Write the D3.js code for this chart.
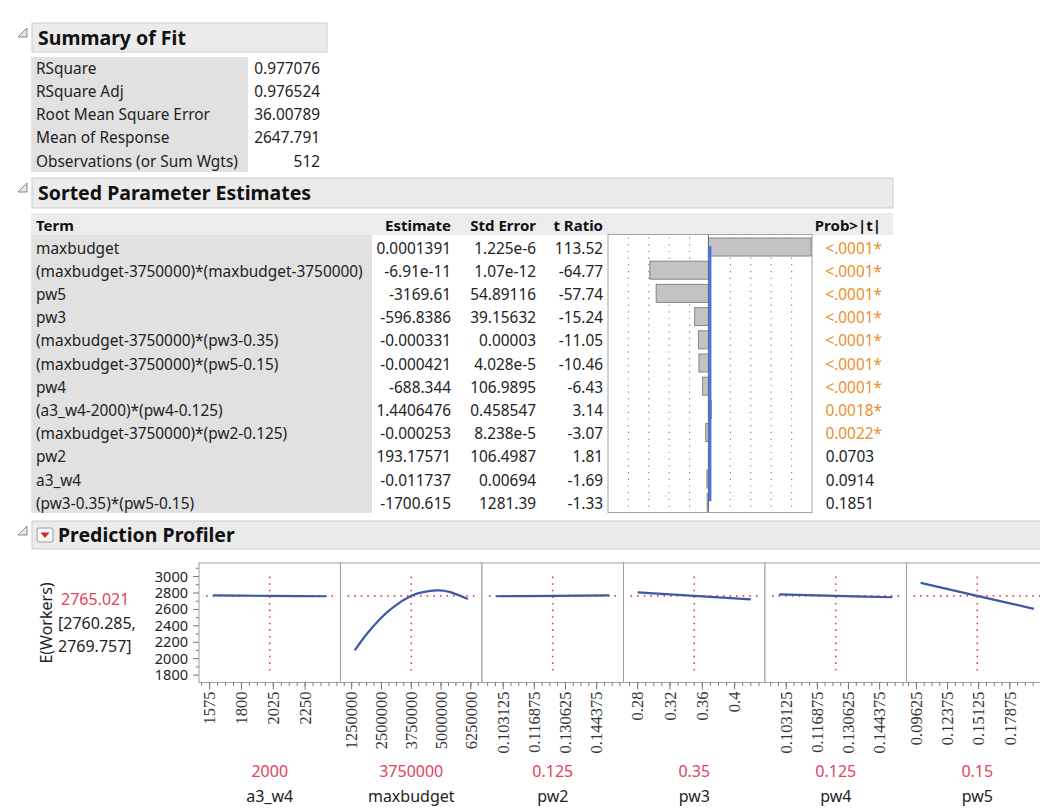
<!DOCTYPE html>
<html>
<head>
<meta charset="utf-8">
<script src="https://cdn.jsdelivr.net/npm/d3@7/dist/d3.min.js"></script>
<style>
  body { margin: 0; background: #fff; }
  svg { display: block; font-family: "Noto Sans", "Open Sans", sans-serif; }
</style>
</head>
<body>
<svg id="chart" width="1040" height="808"></svg>
<script>
// ---------- data ----------
var fitLabels = ["RSquare", "RSquare Adj", "Root Mean Square Error", "Mean of Response", "Observations (or Sum Wgts)"];
var fitValues = ["0.977076", "0.976524", "36.00789", "2647.791", "512"];

var terms = ["maxbudget", "(maxbudget-3750000)*(maxbudget-3750000)", "pw5", "pw3",
  "(maxbudget-3750000)*(pw3-0.35)", "(maxbudget-3750000)*(pw5-0.15)", "pw4",
  "(a3_w4-2000)*(pw4-0.125)", "(maxbudget-3750000)*(pw2-0.125)", "pw2", "a3_w4",
  "(pw3-0.35)*(pw5-0.15)"];
var estimates = ["0.0001391", "-6.91e-11", "-3169.61", "-596.8386", "-0.000331", "-0.000421",
  "-688.344", "1.4406476", "-0.000253", "193.17571", "-0.011737", "-1700.615"];
var stdErrors = ["1.225e-6", "1.07e-12", "54.89116", "39.15632", "0.00003", "4.028e-5",
  "106.9895", "0.458547", "8.238e-5", "106.4987", "0.00694", "1281.39"];
var tRatios = [113.52, -64.77, -57.74, -15.24, -11.05, -10.46, -6.43, 3.14, -3.07, 1.81, -1.69, -1.33];
var probs = ["<.0001*", "<.0001*", "<.0001*", "<.0001*", "<.0001*", "<.0001*", "<.0001*",
  "0.0018*", "0.0022*", "0.0703", "0.0914", "0.1851"];

var factors = ["a3_w4", "maxbudget", "pw2", "pw3", "pw4", "pw5"];
var factorCurrent = [2000, 3750000, 0.125, 0.35, 0.125, 0.15];
var factorDomains = [[1500, 2500], [781250, 6718750], [0.09375, 0.15625],
  [0.2625, 0.4375], [0.09375, 0.15625], [0.0875, 0.2125]];
var factorTicks = [[1575, 1800, 2025, 2250],
  [1250000, 2500000, 3750000, 5000000, 6250000],
  [0.103125, 0.116875, 0.130625, 0.144375],
  [0.28, 0.32, 0.36, 0.4],
  [0.103125, 0.116875, 0.130625, 0.144375],
  [0.09625, 0.12375, 0.15125, 0.17875]];
// profile traces
var traceX = [[1600, 2000, 2400],
  [1375000, 1900000, 2450000, 3000000, 3750000, 4250000, 4800000, 5350000, 6125000],
  [0.1, 0.125, 0.15],
  [0.28, 0.35, 0.42],
  [0.1, 0.125, 0.15],
  [0.1, 0.15, 0.2]];
var traceY = [[2770, 2765, 2760],
  [2100, 2306, 2487, 2629, 2765, 2811, 2831, 2814, 2728],
  [2760, 2765, 2770],
  [2807, 2765, 2723],
  [2782, 2765, 2748],
  [2923, 2765, 2607]];
var yTicks = [1800, 2000, 2200, 2400, 2600, 2800, 3000];
var predValue = "2765.021";
var predCI = ["[2760.285,", "2769.757]"];

// ---------- helpers ----------
var svg = d3.select("#chart");
var RED = "#e4405c", ORANGE = "#e8902c", TXT = "#222";
var FS = 15.4;

function outlineHeader(x, y, w, h, title, tri) {
  svg.append("rect").attr("x", x).attr("y", y).attr("width", w).attr("height", h)
    .attr("fill", "#ebebeb").attr("stroke", "#cdcdcd");
  svg.append("path")
    .attr("d", "M" + (tri + 9) + "," + (y + 5) + "L" + (tri + 9) + "," + (y + 14) + "L" + tri + "," + (y + 14) + "Z")
    .attr("fill", "#e6e6e6").attr("stroke", "#8a8a8a").attr("stroke-width", 1);
  return svg.append("text").attr("x", x + 6).attr("y", y + h / 2 + 7)
    .attr("font-size", 19.5).attr("font-weight", "bold").attr("fill", "#111").text(title);
}

// ---------- Summary of Fit ----------
outlineHeader(32, 23, 295, 29, "Summary of Fit", 18);
svg.append("rect").attr("x", 31).attr("y", 57).attr("width", 217).attr("height", 115).attr("fill", "#e1e1e1");
var rowY = d3.scaleLinear().domain([0, 1]).range([68, 91.3]);
svg.selectAll(".fitL").data(fitLabels).enter().append("text")
  .attr("x", 36).attr("y", function(d, i) { return rowY(i) + 5.5; })
  .attr("font-size", FS).attr("fill", TXT).text(function(d) { return d; });
svg.selectAll(".fitV").data(fitValues).enter().append("text")
  .attr("x", 320).attr("y", function(d, i) { return rowY(i) + 5.5; }).attr("text-anchor", "end")
  .attr("font-size", FS).attr("fill", TXT).text(function(d) { return d; });

// ---------- Sorted Parameter Estimates ----------
outlineHeader(32, 178, 861, 30, "Sorted Parameter Estimates", 18);
svg.append("rect").attr("x", 31).attr("y", 213).attr("width", 862).attr("height", 22).attr("fill", "#ececec");
svg.append("rect").attr("x", 31).attr("y", 235).attr("width", 341).attr("height", 278).attr("fill", "#e1e1e1");

var headers = [["Term", 36, "start"], ["Estimate", 451, "end"], ["Std Error", 536, "end"],
  ["t Ratio", 603, "end"], ["Prob>|t|", 881, "end"]];
svg.selectAll(".hdr").data(headers).enter().append("text")
  .attr("x", function(d) { return d[1]; }).attr("y", 230.5).attr("text-anchor", function(d) { return d[2]; })
  .attr("font-size", 15).attr("font-weight", "bold").attr("fill", "#111").text(function(d) { return d[0]; });

var row = d3.scaleLinear().domain([0, 1]).range([248, 271.2]);
function col(arr, x, anchor, color) {
  svg.append("g").selectAll("text").data(arr).enter().append("text")
    .attr("x", x).attr("y", function(d, i) { return row(i) + 5.5; })
    .attr("text-anchor", anchor).attr("font-size", FS)
    .attr("fill", color || TXT).text(function(d) { return d; });
}
col(terms, 36, "start");
col(estimates, 451, "end");
col(stdErrors, 536, "end");
col(tRatios.map(function(t) { return t.toFixed(2); }), 603, "end");
svg.append("g").selectAll("text").data(probs).enter().append("text")
  .attr("x", function(d) { return d.slice(-1) === "*" ? 882 : 874; })
  .attr("y", function(d, i) { return row(i) + 5.5; })
  .attr("text-anchor", "end").attr("font-size", FS)
  .attr("fill", function(d) { return d.slice(-1) === "*" ? ORANGE : TXT; })
  .text(function(d) { return d; });

// t ratio bar chart
var tx = d3.scaleLinear().domain([-111, 114.5]).range([608, 812]);
var gridX = d3.scaleLinear().domain([0, 10]).range([608, 812]);
var chartTop = 234.5, chartBot = 512.5;
svg.append("rect").attr("x", 608).attr("y", chartTop).attr("width", 204).attr("height", chartBot - chartTop)
  .attr("fill", "#fff").attr("stroke", "#a3a3a3");
svg.append("g").selectAll("line").data([1, 2, 3, 4, 6, 7, 8, 9]).enter().append("line")
  .attr("x1", gridX).attr("x2", gridX).attr("y1", chartTop + 3).attr("y2", chartBot - 1)
  .attr("stroke", "#8a8a8a").attr("stroke-width", 1.2).attr("stroke-dasharray", "1.2,5.5");
svg.append("g").selectAll("rect").data(tRatios).enter().append("rect")
  .attr("x", function(d) { return Math.min(tx(0), tx(d)); })
  .attr("width", function(d) { return Math.abs(tx(d) - tx(0)); })
  .attr("y", function(d, i) { return row(i) - 10; }).attr("height", 18)
  .attr("fill", "#c3c3c3").attr("stroke", "#868686");
svg.append("line").attr("x1", tx(0)).attr("x2", tx(0)).attr("y1", chartTop).attr("y2", chartBot)
  .attr("stroke", "#6a6a6a");
svg.append("rect").attr("x", tx(0)).attr("width", 3)
  .attr("y", row(0) - 2).attr("height", row(tRatios.length - 1) - row(0))
  .attr("fill", "#4c73d6");

// ---------- Prediction Profiler ----------
outlineHeader(32, 521, 1010, 28, "Prediction Profiler", 18).attr("x", 58);
svg.append("rect").attr("x", 37).attr("y", 528).attr("width", 16).attr("height", 14).attr("rx", 2)
  .attr("fill", "#f6f6f6").attr("stroke", "#9a9a9a");
svg.append("path").attr("d", "M40.5,532.5L49.5,532.5L45,538Z").attr("fill", "#d8202c");

var panelW = 141.5, panelX0 = 199, pTop = 563, pBot = 682.5;
var y = d3.scaleLinear().domain([1710, 3165]).range([pBot, pTop]);

// y axis
svg.append("g").selectAll("line").data(d3.range(1800, 3101, 100)).enter().append("line")
  .attr("x1", function(d) { return d % 200 === 0 ? panelX0 - 6 : panelX0 - 3; }).attr("x2", panelX0)
  .attr("y1", y).attr("y2", y).attr("stroke", "#777");
svg.append("g").selectAll("text").data(yTicks).enter().append("text")
  .attr("x", 188).attr("y", function(d) { return y(d) + 5; }).attr("text-anchor", "end")
  .attr("font-size", 14.5).attr("fill", TXT).text(function(d) { return d; });
svg.append("text").attr("transform", "translate(52,623) rotate(-90)").attr("text-anchor", "middle")
  .attr("font-size", 16).attr("fill", TXT).text("E(Workers)");
svg.append("text").attr("x", 61).attr("y", 605).attr("font-size", 16).attr("fill", RED).text(predValue);
svg.selectAll(".ci").data(predCI).enter().append("text")
  .attr("x", 58).attr("y", function(d, i) { return 628.5 + i * 23; })
  .attr("font-size", 16).attr("fill", TXT).text(function(d) { return d; });

var line = d3.line().curve(d3.curveNatural);
factors.forEach(function(name, k) {
  var x0 = panelX0 + k * panelW, x1 = x0 + panelW;
  var x = d3.scaleLinear().domain(factorDomains[k]).range([x0, x1]);
  var g = svg.append("g");
  g.append("rect").attr("x", x0).attr("y", pTop).attr("width", panelW).attr("height", pBot - pTop)
    .attr("fill", "#fff").attr("stroke", "#9d9d9d");
  // x ticks
  var tk = factorTicks[k], step = (tk[1] - tk[0]) / 4;
  var minor = d3.range(tk[0] - 8 * step, tk[tk.length - 1] + 8 * step, step)
    .filter(function(v) { return x(v) > x0 + 1 && x(v) < x1 - 1; });
  g.selectAll(".mt").data(minor).enter().append("line")
    .attr("x1", x).attr("x2", x).attr("y1", pBot).attr("y2", pBot + 3.5).attr("stroke", "#777");
  g.selectAll(".Mt").data(tk).enter().append("line")
    .attr("x1", x).attr("x2", x).attr("y1", pBot).attr("y2", pBot + 7).attr("stroke", "#777");
  g.selectAll(".tl").data(tk).enter().append("text")
    .attr("transform", function(v) { return "translate(" + x(v) + "," + (pBot + 9) + ") rotate(-90)"; })
    .attr("dy", "0.35em").attr("text-anchor", "end")
    .attr("font-family", "Liberation Serif, serif").attr("font-size", 16.5).attr("fill", "#333")
    .text(function(v) { return String(v); });
  // crosshair
  var cx = x(factorCurrent[k]);
  g.append("line").attr("x1", cx).attr("x2", cx).attr("y1", y(3000)).attr("y2", y(1800))
    .attr("stroke", RED).attr("stroke-width", 1.6).attr("stroke-dasharray", "1.6,5");
  g.append("line").attr("x1", x0 + 7).attr("x2", x1 - 7).attr("y1", y(2765)).attr("y2", y(2765))
    .attr("stroke", RED).attr("stroke-width", 1.6).attr("stroke-dasharray", "1.6,5");
  // trace
  var pts = traceX[k].map(function(v, i) { return [x(v), y(traceY[k][i])]; });
  g.append("path").attr("d", line(pts)).attr("fill", "none")
    .attr("stroke", "#3c58a8").attr("stroke-width", 2.2);
  // labels
  g.append("text").attr("x", (x0 + x1) / 2).attr("y", 777).attr("text-anchor", "middle")
    .attr("font-size", 16).attr("fill", RED).text(String(factorCurrent[k]));
  g.append("text").attr("x", (x0 + x1) / 2).attr("y", 802).attr("text-anchor", "middle")
    .attr("font-size", 16).attr("fill", TXT).text(name);
});
</script>
</body>
</html>
